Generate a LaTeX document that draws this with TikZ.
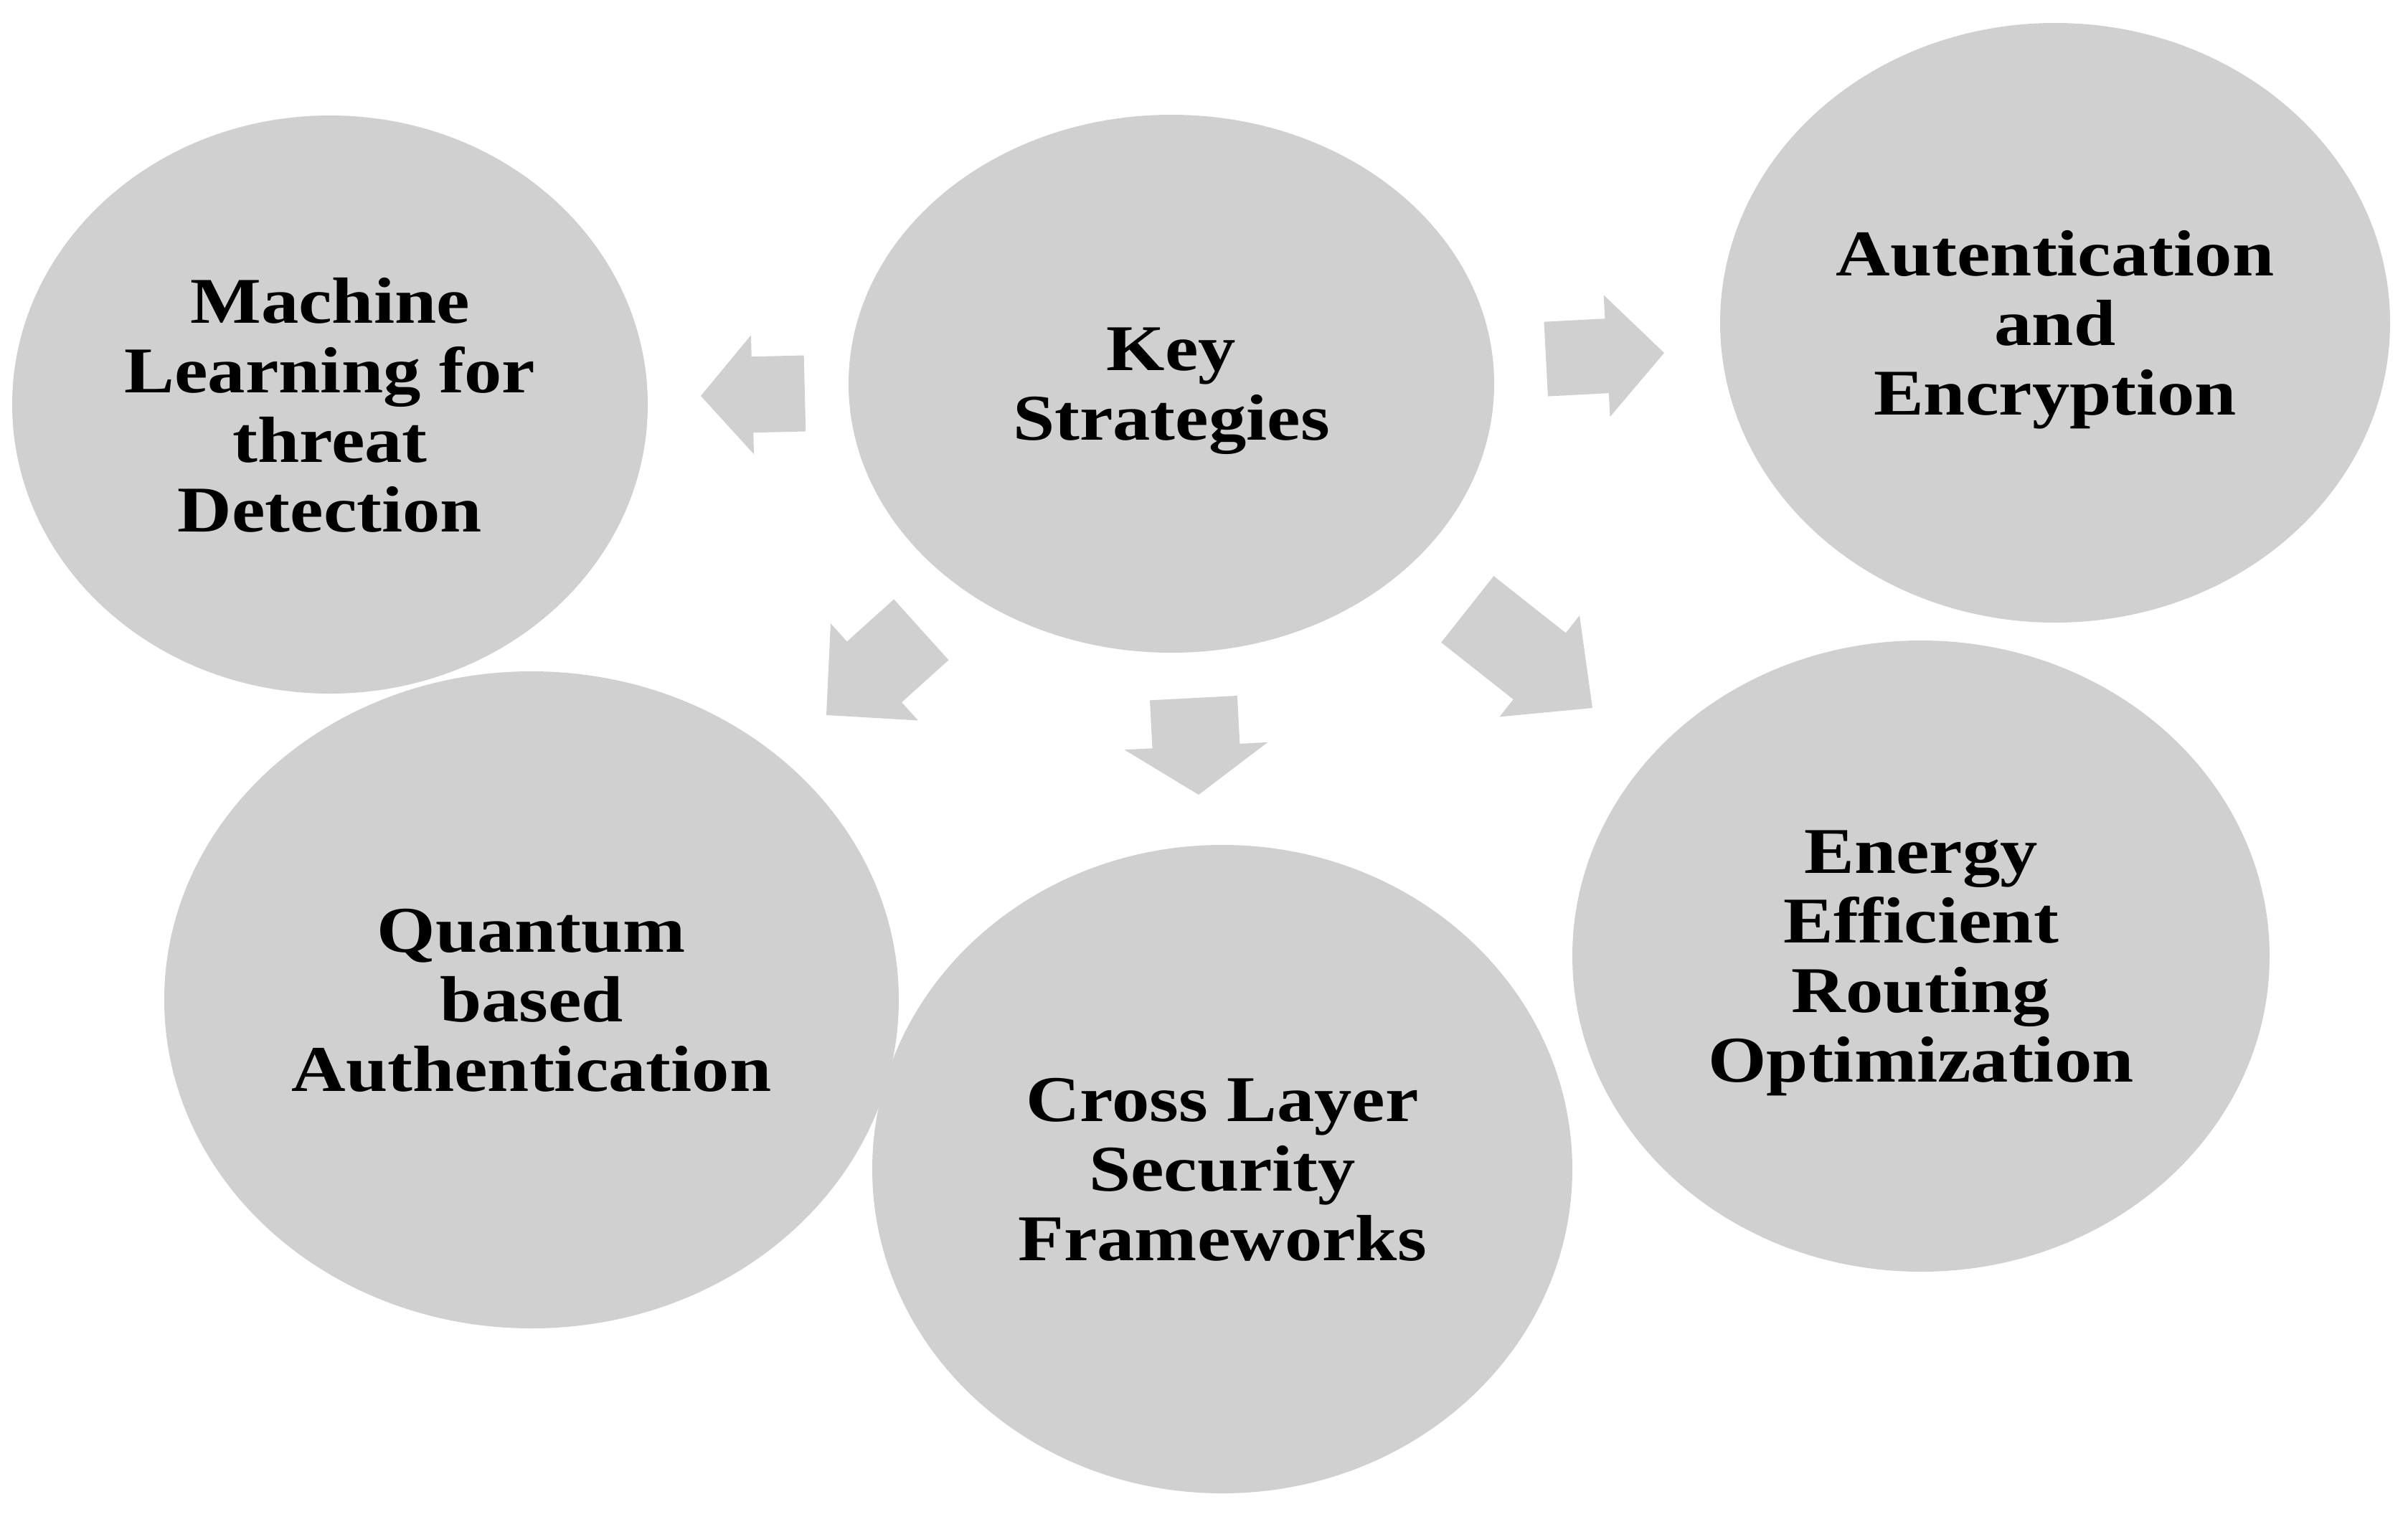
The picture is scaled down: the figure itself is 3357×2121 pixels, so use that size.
\documentclass[tikz,border=0pt]{standalone}
\usepackage{fontspec}
\setmainfont{Liberation Serif}[FakeStretch=1.15]
\usetikzlibrary{shapes.geometric}
\definecolor{bubble}{RGB}{208,208,208}
\tikzset{
  bubble/.style={ellipse, fill=bubble, inner sep=0pt, align=center, text depth=0pt,
    font=\fontsize{91}{97}\selectfont\bfseries, text=black},
  blockarrow/.style={fill=bubble}
}
% name, tip x, tip y, angle, head length, head half width, shaft half width, shaft length
\newcommand\bkarrow[8]{%
  \fill[blockarrow, shift={(#2,#3)}, rotate=#4]
    (0,0) -- (-#5,#6) -- (-#5,#7) -- (-#5-#8,#7) -- (-#5-#8,-#7) -- (-#5,-#7) -- (-#5,-#6) -- cycle
    coordinate (#1);}
\begin{document}
\begin{tikzpicture}[x=1pt,y=-1pt]
\useasboundingbox (0,0) rectangle (3357,2121);
\fill[white] (0,0) rectangle (3357,2121);
\node[bubble, minimum width=900, minimum height=750] (ks) at (1633,535) {Key\\Strategies};
\node[bubble, minimum width=886, minimum height=806] (ml) at (460,564) {Machine\\Learning for\\threat\\Detection};
\node[bubble, minimum width=934, minimum height=836] (ae) at (2865,450) {Autentication\\and\\Encryption};
\node[bubble, minimum width=1024, minimum height=916] (qb) at (741,1394) {Quantum\\based\\Authentication};
\node[bubble, minimum width=976, minimum height=904] (cl) at (1704,1630) {Cross Layer\\Security\\Frameworks};
\node[bubble, minimum width=972, minimum height=880] (ee) at (2678,1333) {Energy\\Efficient\\Routing\\Optimization};
\bkarrow{a1}{977}{552}{181.4}{72}{83}{53}{73}
\bkarrow{a2}{2320}{492}{3}{80}{85}{52}{85}
\bkarrow{a3}{1152}{997}{222}{90}{91}{57}{88}
\bkarrow{a4}{1671}{1108}{-87}{68}{100}{61}{67}
\bkarrow{a5}{2220}{987}{-38.3}{94}{90}{59}{128}
\end{tikzpicture}
\end{document}
